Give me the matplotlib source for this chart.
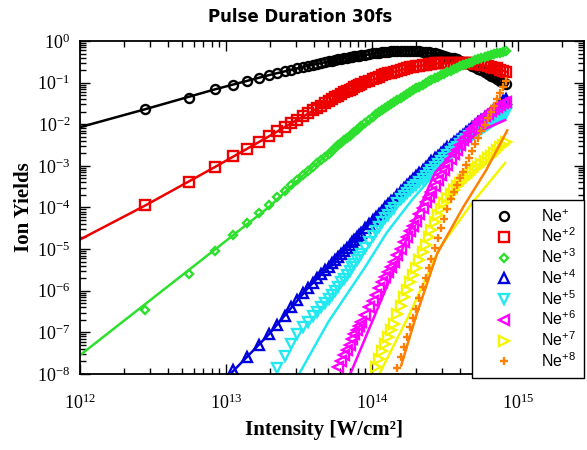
import numpy as np
import matplotlib.pyplot as plt

# intensities of the simulated points, in units of 1e13 W/cm^2
I_grid = [0.28, 0.56, 0.84, 1.12, 1.4, 1.68, 1.96, 2.24, 2.52, 2.8, 3.08, 3.36, 3.64, 3.92, 4.2,
          4.48, 4.76, 5.04, 5.32, 5.6, 5.88, 6.16, 6.44, 6.72, 7.0, 7.28, 7.56, 7.84, 8.12, 8.4,
          8.96, 9.52, 10.08, 10.64, 11.2, 11.76, 12.32, 12.88, 13.44, 14.0,
          14.84, 15.68, 16.52, 17.36, 18.2, 19.04, 19.88, 21.0, 22.12, 23.24,
          24.36, 25.48, 26.88, 28.28, 29.68, 31.08, 32.76, 34.44, 36.12, 37.8,
          39.76, 41.72, 43.68, 45.92, 48.16, 50.68, 53.2, 56.0, 58.8, 61.88,
          64.96, 68.32, 71.68, 75.32, 78.96, 82.88]

# ion yields (markers); each list lines up with the END of I_grid
ne1 = [0.023, 0.0431, 0.069, 0.089, 0.107, 0.129, 0.151, 0.170, 0.186, 0.204, 0.221, 0.239, 0.254, 0.269, 0.283,
       0.298, 0.313, 0.326, 0.339, 0.351, 0.363, 0.374, 0.385, 0.396, 0.407, 0.417, 0.428, 0.437, 0.446, 0.454,
       0.471, 0.490, 0.501, 0.513, 0.525, 0.536, 0.546, 0.553, 0.560, 0.565,
       0.570, 0.573, 0.575, 0.575, 0.575, 0.573, 0.569, 0.562, 0.553, 0.543,
       0.531, 0.519, 0.501, 0.482, 0.463, 0.446, 0.423, 0.401, 0.380, 0.361,
       0.337, 0.318, 0.298, 0.275, 0.254, 0.234, 0.216, 0.200, 0.182, 0.163,
       0.148, 0.133, 0.123, 0.112, 0.103, 0.094]
ne2 = [1.12e-4, 4.07e-4, 9.4e-4, 1.70e-3, 2.57e-3, 3.80e-3, 5.13e-3, 6.76e-3, 8.5e-3, 0.0105, 0.0129, 0.0155,
       0.0182, 0.0214, 0.0245,
       0.0279, 0.0316, 0.0355, 0.0398, 0.0443, 0.049, 0.0537, 0.0582, 0.0628, 0.0676, 0.0721, 0.0769, 0.0813,
       0.0865, 0.0912,
       0.101, 0.112, 0.122, 0.131, 0.140, 0.149, 0.158, 0.166, 0.174, 0.181,
       0.194, 0.204, 0.214, 0.223, 0.232, 0.240, 0.248, 0.257, 0.265, 0.272,
       0.278, 0.282, 0.288, 0.291, 0.294, 0.297, 0.299, 0.301, 0.302, 0.302,
       0.302, 0.301, 0.299, 0.295, 0.291, 0.285, 0.279, 0.271, 0.260, 0.249,
       0.240, 0.229, 0.219, 0.206, 0.195, 0.183]
ne3 = [3.4e-7, 2.57e-6, 8.9e-6, 2.14e-5, 4.17e-5, 7.2e-5, 1.15e-4, 1.74e-4, 2.51e-4, 3.47e-4, 4.68e-4, 6.0e-4,
       7.6e-4, 9.3e-4, 1.15e-3,
       1.38e-3, 1.66e-3, 1.95e-3, 2.29e-3, 2.67e-3, 3.09e-3, 3.57e-3, 4.07e-3, 4.62e-3, 5.25e-3, 5.86e-3,
       6.56e-3, 7.24e-3, 8.05e-3, 8.85e-3,
       0.0107, 0.0129, 0.0151, 0.0174, 0.0196, 0.0221, 0.0250, 0.0278, 0.0308, 0.0339,
       0.0389, 0.0437, 0.049, 0.0546, 0.0603, 0.0664, 0.0724, 0.0804, 0.0891, 0.0977,
       0.107, 0.115, 0.127, 0.139, 0.151, 0.163, 0.179, 0.195, 0.211, 0.227,
       0.245, 0.263, 0.279, 0.299, 0.319, 0.342, 0.363, 0.385, 0.406, 0.432,
       0.457, 0.481, 0.501, 0.525, 0.547, 0.573]
ne4 = [1.23e-8, 2.5e-8, 4.9e-8, 8.9e-8, 1.51e-7, 2.5e-7, 4.0e-7, 6.0e-7, 8.7e-7, 1.17e-6, 1.55e-6, 2.0e-6,
       2.48e-6, 3.09e-6, 3.8e-6, 4.68e-6, 5.58e-6, 6.6e-6, 7.8e-6, 9.1e-6, 1.07e-5, 1.26e-5, 1.45e-5,
       1.67e-5, 1.91e-5, 2.19e-5, 2.47e-5,
       3.16e-5, 3.98e-5, 4.9e-5, 5.93e-5, 7.1e-5, 8.4e-5, 1.01e-4, 1.19e-4, 1.40e-4, 1.62e-4,
       2.0e-4, 2.43e-4, 2.95e-4, 3.53e-4, 4.17e-4, 4.9e-4, 5.66e-4, 6.76e-4, 8.1e-4, 9.6e-4,
       1.12e-3, 1.29e-3, 1.52e-3, 1.77e-3, 2.04e-3, 2.36e-3, 2.77e-3, 3.24e-3, 3.72e-3, 4.27e-3,
       4.93e-3, 5.65e-3, 6.46e-3, 7.45e-3, 8.5e-3, 9.8e-3, 0.0112, 0.0128, 0.0147, 0.0171,
       0.0195, 0.0229, 0.0263, 0.0307, 0.0352, 0.0411]
ne5 = [1.38e-8, 2.75e-8, 5.4e-8, 9.1e-8, 1.32e-7, 1.82e-7, 2.45e-7, 3.16e-7,
       3.98e-7, 5.0e-7, 6.3e-7, 7.9e-7, 1.0e-6, 1.26e-6, 1.58e-6, 1.95e-6, 2.43e-6, 3.02e-6, 3.69e-6,
       4.5e-6, 5.37e-6, 6.53e-6, 7.76e-6,
       1.07e-5, 1.51e-5, 2.04e-5, 2.69e-5, 3.43e-5, 4.37e-5, 5.46e-5, 6.68e-5, 8.1e-5, 9.5e-5,
       1.29e-4, 1.58e-4, 1.91e-4, 2.25e-4, 2.63e-4, 3.04e-4, 3.49e-4, 4.12e-4, 4.9e-4, 5.79e-4,
       6.8e-4, 7.9e-4, 9.4e-4, 1.11e-3, 1.31e-3, 1.52e-3, 1.79e-3, 2.11e-3, 2.51e-3, 2.88e-3,
       3.39e-3, 3.89e-3, 4.47e-3, 5.13e-3, 5.86e-3, 6.6e-3, 7.45e-3, 8.5e-3, 9.5e-3, 0.0107,
       0.0117, 0.0132, 0.0145, 0.0158, 0.0172, 0.0188]
ne6 = [1.45e-8, 2.04e-8, 2.8e-8, 3.8e-8, 5.1e-8, 6.8e-8, 8.9e-8, 1.12e-7, 1.41e-7, 1.74e-7,
       2.63e-7, 4.0e-7, 5.75e-7, 8.1e-7, 1.15e-6, 1.58e-6, 2.14e-6, 2.82e-6, 3.72e-6, 4.9e-6,
       7.2e-6, 1.02e-5, 1.45e-5, 2.0e-5, 2.69e-5, 3.63e-5, 4.8e-5, 6.9e-5, 9.8e-5, 1.32e-4,
       1.78e-4, 2.4e-4, 3.31e-4, 4.57e-4, 6.0e-4, 8.1e-4, 1.07e-3, 1.45e-3, 1.91e-3, 2.45e-3,
       3.24e-3, 4.07e-3, 5.0e-3, 6.3e-3, 7.8e-3, 9.3e-3, 0.0112, 0.0133, 0.0155, 0.0178,
       0.0204, 0.0229, 0.0257, 0.0285, 0.0316, 0.0347]
ne7 = [1.48e-8, 2.34e-8, 3.55e-8, 5.4e-8, 7.8e-8, 1.12e-7, 1.62e-7,
       2.75e-7, 4.4e-7, 6.9e-7, 1.07e-6, 1.58e-6, 2.34e-6, 3.47e-6, 5.4e-6, 8.5e-6, 1.29e-5,
       1.95e-5, 2.82e-5, 4.37e-5, 6.5e-5, 9.1e-5, 1.26e-4, 1.66e-4, 2.14e-4, 2.69e-4, 3.24e-4,
       3.89e-4, 4.57e-4, 5.25e-4, 6.2e-4, 7.1e-4, 8.2e-4, 9.5e-4, 1.11e-3, 1.29e-3, 1.51e-3,
       1.76e-3, 2.04e-3, 2.4e-3, 2.79e-3, 3.2e-3, 3.67e-3]
ne8 = [1.38e-8, 2.5e-8, 4.5e-8, 7.9e-8, 1.32e-7, 2.24e-7, 3.63e-7, 6.6e-7, 1.2e-6, 2.04e-6,
       3.47e-6, 5.75e-6, 1.07e-5, 1.86e-5, 3.16e-5, 5.25e-5, 9.3e-5, 1.58e-4, 2.34e-4, 3.39e-4,
       5.0e-4, 7.2e-4, 1.05e-3, 1.55e-3, 2.24e-3, 3.39e-3, 4.8e-3, 6.9e-3, 9.8e-3, 0.0141,
       0.02, 0.0282, 0.0398, 0.0562, 0.0776, 0.110]

# model curves (thin lines), intensity in 1e13 W/cm^2
line_I = [0.1, 0.28, 0.84, 1.96, 3.64, 7.0, 12.6, 18.2, 26.04, 36.96, 47.88, 61.32, 77.28, 83.44]
fit1 = [0.0085, 0.023, 0.069, 0.151, 0.254, 0.407, 0.55, 0.575, 0.51, 0.37, 0.25, 0.15, 0.085, 0.072]
fit2 = [1.7e-5, 1.12e-4, 9.4e-4, 5.1e-3, 0.018, 0.068, 0.16, 0.23, 0.285, 0.30, 0.29, 0.25, 0.2, 0.18]
fit3 = [2.83e-8, 4.8e-7, 9.8e-6, 1.02e-4, 7.6e-4, 5.25e-3, 0.0263, 0.0603, 0.12, 0.219, 0.316,
        0.427, 0.537, 0.575]
fit4_I = [1.07, 1.96, 3.64, 7.0, 12.6, 18.2, 26.04, 36.96, 47.88, 61.32, 77.28, 83.44]
fit4 = [1e-8, 8.9e-8, 1.17e-6, 1.26e-5, 1.1e-4, 4.2e-4, 1.38e-3, 3.98e-3, 8.3e-3, 0.0166, 0.033, 0.0417]
fit5_I = [3.16, 5.01, 8.95, 12.6, 18.7, 28.2, 44.7, 63.1, 81.3]
fit5 = [1e-8, 1.78e-7, 3.7e-6, 2.5e-5, 1.51e-4, 7.9e-4, 3.5e-3, 7.9e-3, 0.0148]
fit6_I = [7.08, 12.6, 20.0, 26.9, 39.8, 56.2, 81.3]
fit6 = [1e-8, 1.26e-6, 6.3e-5, 6.8e-4, 3.2e-3, 7.1e-3, 0.0126]
fit7_I = [11.2, 17.8, 29.2, 48.4, 81.3]
fit7 = [1e-8, 2.5e-7, 1.12e-5, 1.29e-4, 1.17e-3]
fit8_I = [15.8, 20.0, 27.9, 42.0, 60.3, 84.1]
fit8 = [1.6e-8, 2.5e-7, 7.9e-6, 1.02e-4, 7.9e-4, 7.1e-3]

labels = ['Ne$^{\\mathdefault{+}}$', 'Ne$^{\\mathdefault{+2}}$', 'Ne$^{\\mathdefault{+3}}$',
          'Ne$^{\\mathdefault{+4}}$', 'Ne$^{\\mathdefault{+5}}$', 'Ne$^{\\mathdefault{+6}}$',
          'Ne$^{\\mathdefault{+7}}$', 'Ne$^{\\mathdefault{+8}}$']
colors = ['black', '#ee0000', '#2ee02e', '#0000dd', '#22e8f0', '#ff00ff', '#f5f500', '#ff8000']
markers = ['o', 's', 'D', '^', 'v', '<', '>', '+']
msizes = [6.5, 6.5, 4.0, 6.5, 6.5, 6.5, 6.5, 6.0]

yields = [ne1, ne2, ne3, ne4, ne5, ne6, ne7, ne8]
fits = [(line_I, fit1), (line_I, fit2), (line_I, fit3), (fit4_I, fit4),
        (fit5_I, fit5), (fit6_I, fit6), (fit7_I, fit7), (fit8_I, fit8)]

fig = plt.figure(figsize=(5.87, 4.5), dpi=100)
ax = fig.add_axes([0.1363, 0.1689, 0.8586, 0.74])

for i in range(8):
    y = yields[i]
    start = len(I_grid) - len(y)
    x = np.array(I_grid[start:]) * 1e13
    fx, fy = fits[i]
    ax.plot(np.array(fx) * 1e13, fy, '-', color=colors[i], lw=1.8)
    ax.plot(x, y, linestyle='none', marker=markers[i], ms=msizes[i], mfc='none',
            mec=colors[i], mew=1.7, label=labels[i])

ax.set_xscale('log')
ax.set_yscale('log')
ax.set_xlim(1e12, 2.82e15)
ax.set_ylim(1e-8, 1)

ax.tick_params(which='both', direction='in', top=True, right=True, width=1)
ax.tick_params(which='major', length=7, labelsize=13)
ax.tick_params(which='minor', length=4)
ax.tick_params(axis='x', which='major', pad=14)
ax.tick_params(axis='y', which='major', pad=7)
ax.set_xticks([1e12, 1e13, 1e14, 1e15])
ax.set_yticks([10.0 ** k for k in range(-8, 1)])
for lab in ax.get_xticklabels() + ax.get_yticklabels():
    lab.set_fontfamily('Liberation Serif')
for sp in ax.spines.values():
    sp.set_linewidth(1.3)

fig.text(0.511, 0.962, 'Pulse Duration 30fs', fontsize=12, fontweight='bold',
         ha='center', va='center')
ax.set_xlabel('Intensity [W/cm²]', fontsize=15, fontweight='bold', family='Liberation Serif')
ax.xaxis.set_label_coords(0.484, -0.138)
ax.set_ylabel('Ion Yields', fontsize=15, fontweight='bold',
              family='Liberation Serif', labelpad=2)

leg = ax.legend(loc='lower right', bbox_to_anchor=(0.999, -0.012), borderaxespad=0,
                prop={'family': 'Liberation Sans', 'size': 11.5}, frameon=True, fancybox=False,
                edgecolor='black', framealpha=1, handletextpad=0.8, labelspacing=0.13,
                borderpad=0.5, handlelength=3.0)
leg.get_frame().set_linewidth(1.0)

fig.savefig('out.png', dpi=100)
